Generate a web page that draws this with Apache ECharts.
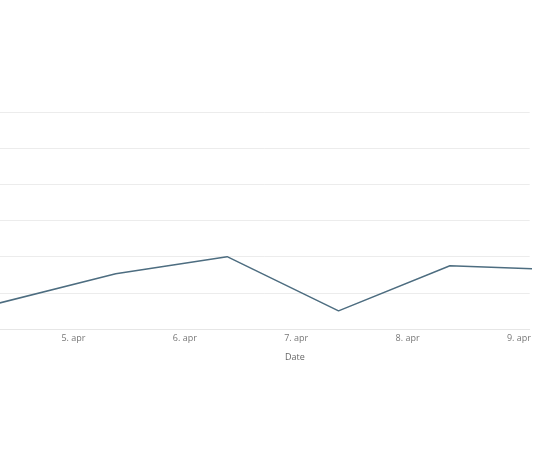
<!DOCTYPE html>
<html>
<head>
<meta charset="utf-8">
<script src="https://cdn.jsdelivr.net/npm/echarts@6/dist/echarts.min.js"></script>
<style>
html,body{margin:0;padding:0;background:#fff;}
#chart{width:534px;height:462px;}
</style>
</head>
<body>
<div id="chart"></div>
<script>
// day-of-April positions (value 5 = 5. apr 00:00), points measured around 09:00
var dayPositions = [4.30, 5.38, 6.38, 7.38, 8.38, 9.38];
var values = [0.69, 1.53, 2.0, 0.5, 1.75, 1.64];
var tickDays = [5, 6, 7, 8, 9];
var xTickMonth = 'apr';
var xAxisTitle = 'Date';

var seriesData = dayPositions.map(function (d, i) { return [d, values[i]]; });

var chart = echarts.init(document.getElementById('chart'), null, {renderer: 'canvas'});
chart.setOption({
  animation: false,
  backgroundColor: '#ffffff',
  grid: {left: 0, right: 0, top: 112, bottom: 133, containLabel: false},
  xAxis: {
    type: 'value',
    min: 4.341,
    max: 9.096,
    name: xAxisTitle,
    nameLocation: 'middle',
    nameGap: 24,
    nameTextStyle: {color: '#666666', fontSize: 9, fontFamily: 'Open Sans', padding: [0, 0, 0, 60]},
    axisLine: {show: true, lineStyle: {color: '#e6e6e6', width: 1}},
    axisTick: {show: false, customValues: tickDays},
    splitLine: {show: false},
    axisLabel: {
      customValues: tickDays,
      color: '#777777', fontSize: 9, fontFamily: 'Open Sans', margin: 5,
      formatter: function (v) { return v + '. ' + xTickMonth; }
    }
  },
  yAxis: {
    type: 'value',
    min: 0,
    max: 6,
    interval: 1,
    axisLine: {show: false},
    axisTick: {show: false},
    axisLabel: {show: false},
    splitLine: {show: true, lineStyle: {color: '#ececec', width: 1}}
  },
  series: [{
    type: 'line',
    data: seriesData,
    showSymbol: false,
    symbol: 'none',
    clip: true,
    lineStyle: {color: '#4d6d80', width: 1.5}
  }]
});
</script>
</body>
</html>
